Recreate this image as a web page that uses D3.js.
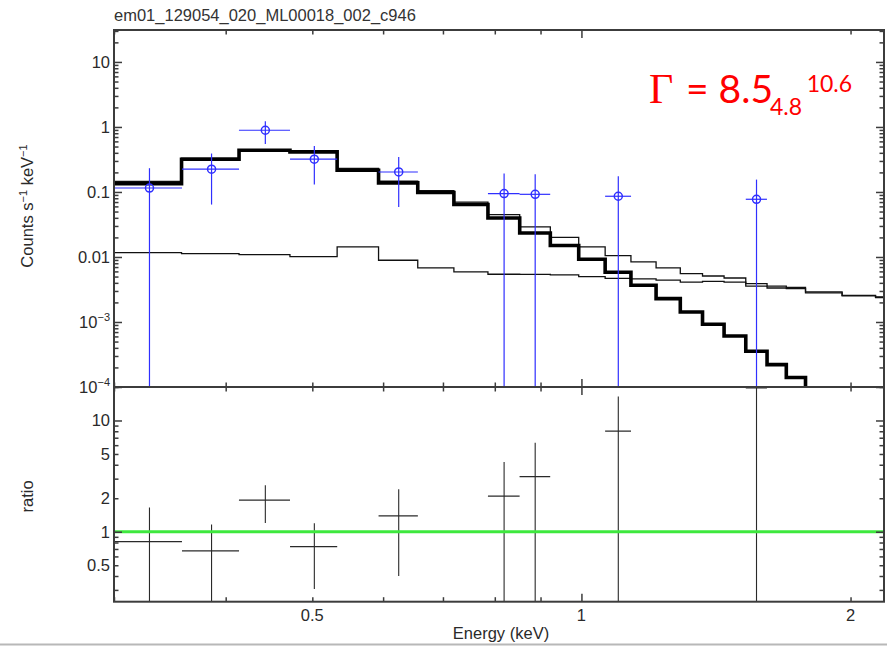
<!DOCTYPE html>
<html>
<head>
<meta charset="utf-8">
<script src="https://cdn.jsdelivr.net/npm/d3@7"></script>
<style>
  html, body { margin: 0; padding: 0; background: #fff; }
  svg { display: block; }
</style>
</head>
<body>
<svg id="chart" width="887" height="648"></svg>
<script>
// ---- Spectrum data ---------------------------------------------------------
const plotTitle = "em01_129054_020_ML00018_002_c946";

// Energy bin edges (keV) of the folded model
const binEdges = [0.300, 0.357, 0.414, 0.472, 0.533, 0.593, 0.656, 0.720, 0.786,
                  0.853, 0.923, 0.993, 1.063, 1.136, 1.212, 1.290, 1.366, 1.444,
                  1.527, 1.613, 1.695, 1.781, 1.957, 2.133, 2.180];

// Folded model components per bin (counts s^-1 keV^-1)
const totalModel = [0.146, 0.330, 0.449, 0.423, 0.230, 0.147, 0.105, 0.070, 0.0449,
                    0.029, 0.020, 0.01426, 0.01051, 0.00838, 0.00678, 0.00556, 0.0051,
                    0.00475, 0.0039, 0.00355, 0.00339, 0.0029, 0.00257, 0.00243];
const sourceModel = [0.1346, 0.319, 0.438, 0.413, 0.216, 0.138, 0.098, 0.064, 0.0398,
                     0.0234, 0.0150, 0.00922, 0.00582, 0.00367, 0.00229, 0.001426,
                     0.000922, 0.00061, 0.000355, 0.000221, 0.00014, 0.000068,
                     0.000031, 0.000018];
const backgroundModel = [0.0117, 0.01127, 0.0109, 0.01014, 0.01426, 0.0089, 0.00678,
                         0.00588, 0.00542, 0.0054, 0.0053, 0.0050, 0.0047, 0.0046,
                         0.0044, 0.0041, 0.0042, 0.0041, 0.00355, 0.00333, 0.00325,
                         0.0028, 0.00252, 0.00238];

// Grouped data points (keV, counts s^-1 keV^-1); a low bound of 0 runs off the axis
const dataEnergy    = [0.3287, 0.3857, 0.4430, 0.5026, 0.6246, 0.8194, 0.8877, 1.0996, 1.5698];
const dataHalfWidth = [0.0287, 0.0283, 0.0291, 0.0305, 0.0316, 0.0334, 0.0350, 0.0367, 0.0428];
const dataRate      = [0.115, 0.224, 0.89, 0.319, 0.203, 0.0945, 0.092, 0.0859, 0.0772];
const dataRateHigh  = [0.232, 0.39, 1.22, 0.51, 0.345, 0.192, 0.187, 0.174, 0.155];
const dataRateLow   = [0, 0.064, 0.548, 0.13, 0.0588, 0, 0, 0, 0];

// Data / model ratio for the same points
const ratioValue = [0.814, 0.672, 1.92, 0.734, 1.39, 2.09, 3.13, 8.02, 19.6];
const ratioHigh  = [1.65, 1.16, 2.62, 1.19, 2.41, 4.23, 6.3, 16.4, 40];
const ratioLow   = [0, 0, 1.2, 0.306, 0.40, 0, 0, 0, 0];

// Tick labels
const energyLabels = [0.5, 1, 2];
const rateLabels = [
  {v: 10, base: "10"}, {v: 1, base: "1"}, {v: 0.1, base: "0.1"}, {v: 0.01, base: "0.01"},
  {v: 1e-3, base: "10", exp: "\u22123"}, {v: 1e-4, base: "10", exp: "\u22124"}
];
const ratioLabels = [0.5, 1, 2, 5, 10];

// ---- Layout ----------------------------------------------------------------
const left = 114, right = 884;
const topY = 30, midY = 387, bottomY = 601.7;
const axisColor = "#3c3c3c", textColor = "#2a2a2a";
const font = "'Liberation Sans', Arial, Helvetica, sans-serif";

const svg = d3.select("#chart");

const x = d3.scaleLog().domain([0.3, 2.18]).range([left, right]);
const yRate = d3.scaleLog().domain([1e-4, 31]).range([midY, topY]);
const yRatio = d3.scaleLog().domain([0.235, 20]).range([bottomY, midY]);

const defs = svg.append("defs");
defs.append("clipPath").attr("id", "clipTop")
  .append("rect").attr("x", left).attr("y", topY).attr("width", right - left).attr("height", midY - topY);
defs.append("clipPath").attr("id", "clipRatio")
  .append("rect").attr("x", left).attr("y", midY).attr("width", right - left).attr("height", bottomY - midY);

// ---- Title -----------------------------------------------------------------
svg.append("text")
  .attr("x", left).attr("y", 21)
  .attr("font-family", font).attr("font-size", 16.5).attr("fill", "#333")
  .text(plotTitle);

// ---- Model step curves ------------------------------------------------------
function stepPoints(values) {
  const pts = values.map((v, i) => [binEdges[i], v]);
  pts.push([binEdges[binEdges.length - 1], values[values.length - 1]]);
  return pts;
}
const stepLine = d3.line()
  .x(d => x(d[0]))
  .y(d => yRate(d[1]))
  .curve(d3.curveStepAfter);

const topPlot = svg.append("g").attr("clip-path", "url(#clipTop)");

topPlot.append("path").datum(stepPoints(backgroundModel))
  .attr("d", stepLine).attr("fill", "none").attr("stroke", "#111").attr("stroke-width", 1.3);
topPlot.append("path").datum(stepPoints(totalModel))
  .attr("d", stepLine).attr("fill", "none").attr("stroke", "#111").attr("stroke-width", 1.3);
topPlot.append("path").datum(stepPoints(sourceModel))
  .attr("d", stepLine).attr("fill", "none").attr("stroke", "#000").attr("stroke-width", 3.6)
  .attr("stroke-linejoin", "miter");

// ---- Data points with error bars ---------------------------------------------
const blue = "#2f2fff";
const rateMin = yRate.domain()[0];
const points = dataEnergy.map((e, i) => ({
  e, hw: dataHalfWidth[i], v: dataRate[i], hi: dataRateHigh[i], lo: Math.max(dataRateLow[i], rateMin)
}));
const pg = topPlot.append("g");
pg.selectAll("line.xerr").data(points).join("line")
  .attr("x1", d => x(d.e - d.hw)).attr("x2", d => x(d.e + d.hw))
  .attr("y1", d => yRate(d.v)).attr("y2", d => yRate(d.v))
  .attr("stroke", blue).attr("stroke-width", 1.2);
pg.selectAll("line.yerr").data(points).join("line")
  .attr("x1", d => x(d.e)).attr("x2", d => x(d.e))
  .attr("y1", d => yRate(d.hi)).attr("y2", d => yRate(d.lo))
  .attr("stroke", blue).attr("stroke-width", 1.2);
pg.selectAll("circle").data(points).join("circle")
  .attr("cx", d => x(d.e)).attr("cy", d => yRate(d.v)).attr("r", 4)
  .attr("fill", "none").attr("stroke", blue).attr("stroke-width", 1.5);

// ---- Ratio panel -------------------------------------------------------------
const ratioMin = yRatio.domain()[0];
const ratios = dataEnergy.map((e, i) => ({
  e, hw: dataHalfWidth[i], v: ratioValue[i], hi: ratioHigh[i], lo: Math.max(ratioLow[i], ratioMin)
}));
const rp = svg.append("g").attr("clip-path", "url(#clipRatio)");
rp.selectAll("line.xerr").data(ratios).join("line")
  .attr("x1", d => x(d.e - d.hw)).attr("x2", d => x(d.e + d.hw))
  .attr("y1", d => yRatio(d.v)).attr("y2", d => yRatio(d.v))
  .attr("stroke", "#2a2a2a").attr("stroke-width", 1.2);
rp.selectAll("line.yerr").data(ratios).join("line")
  .attr("x1", d => x(d.e)).attr("x2", d => x(d.e))
  .attr("y1", d => yRatio(d.hi)).attr("y2", d => yRatio(d.lo))
  .attr("stroke", "#2a2a2a").attr("stroke-width", 1.1);
rp.append("line")
  .attr("x1", left).attr("x2", right)
  .attr("y1", yRatio(1)).attr("y2", yRatio(1))
  .attr("stroke", "#3ee83e").attr("stroke-width", 3);

// ---- Axes: inward ticks on all four sides --------------------------------------
function isDecade(v) {
  const l = Math.log10(v);
  return Math.abs(l - Math.round(l)) < 1e-9;
}
function tickAxis(axisFn, scale, pos, isX, majorLen, minorLen) {
  const all = scale.ticks();
  const major = all.filter(isDecade);
  const minor = all.filter(v => !isDecade(v));
  [[minor, minorLen], [major, majorLen]].forEach(([vals, len]) => {
    const g = svg.append("g")
      .attr("transform", isX ? `translate(0,${pos})` : `translate(${pos},0)`)
      .call(axisFn(scale).tickValues(vals).tickSize(-len).tickFormat(""));
    g.select(".domain").remove();
    g.selectAll(".tick line").attr("stroke", axisColor).attr("stroke-width", 1.5);
  });
}
// upper panel
tickAxis(d3.axisLeft, yRate, left, false, 8, 4.5);
tickAxis(d3.axisRight, yRate, right, false, 8, 4.5);
tickAxis(d3.axisTop, x, topY, true, 8, 4.5);
tickAxis(d3.axisBottom, x, midY, true, 8, 4.5);
// ratio panel
tickAxis(d3.axisLeft, yRatio, left, false, 8, 4.5);
tickAxis(d3.axisRight, yRatio, right, false, 8, 4.5);
tickAxis(d3.axisTop, x, midY, true, 8, 4.5);
tickAxis(d3.axisBottom, x, bottomY, true, 8, 4.5);

// frames
[[topY, midY], [midY, bottomY]].forEach(([a, b]) => {
  svg.append("rect")
    .attr("x", left).attr("y", a).attr("width", right - left).attr("height", b - a)
    .attr("fill", "none").attr("stroke", axisColor).attr("stroke-width", 2);
});

// ---- Tick labels ----------------------------------------------------------------
const labelSize = 16.5;
rateLabels.forEach(d => {
  const t = svg.append("text")
    .attr("x", left - 4).attr("y", yRate(d.v)).attr("dy", "0.36em")
    .attr("text-anchor", "end").attr("font-family", font).attr("font-size", labelSize)
    .attr("fill", textColor);
  t.append("tspan").text(d.base);
  if (d.exp) {
    t.append("tspan").attr("dy", -7).attr("font-size", 11).text(d.exp);
  }
});
ratioLabels.forEach(v => {
  svg.append("text")
    .attr("x", left - 4).attr("y", yRatio(v)).attr("dy", "0.36em")
    .attr("text-anchor", "end").attr("font-family", font).attr("font-size", labelSize)
    .attr("fill", textColor).text(v);
});
energyLabels.forEach(v => {
  svg.append("text")
    .attr("x", x(v)).attr("y", 620.5)
    .attr("text-anchor", "middle").attr("font-family", font).attr("font-size", labelSize)
    .attr("fill", textColor).text(v);
});

// ---- Axis titles ------------------------------------------------------------------
svg.append("text")
  .attr("x", (left + right) / 2 + 2).attr("y", 639)
  .attr("text-anchor", "middle").attr("font-family", font).attr("font-size", labelSize)
  .attr("fill", textColor).text("Energy (keV)");

svg.append("text")
  .attr("transform", `translate(33,${(yRatio(0.235) + yRatio(20)) / 2 + 2}) rotate(-90)`)
  .attr("text-anchor", "middle").attr("font-family", font).attr("font-size", labelSize)
  .attr("fill", textColor).text("ratio");

const yl = svg.append("text")
  .attr("transform", "translate(33,206) rotate(-90)")
  .attr("text-anchor", "middle").attr("font-family", font).attr("font-size", labelSize)
  .attr("fill", textColor);
yl.append("tspan").text("Counts s");
yl.append("tspan").attr("dy", -6).attr("font-size", 11).text("\u22121");
yl.append("tspan").attr("dy", 6).text(" keV");
yl.append("tspan").attr("dy", -6).attr("font-size", 11).text("\u22121");

// ---- Photon index annotation --------------------------------------------------------
const red = "#ff0000";
const gammaFont = "Lato, 'Open Sans', sans-serif";
svg.append("text").attr("x", 649).attr("y", 103.3)
  .attr("font-family", "'Liberation Serif', 'Times New Roman', serif").attr("font-size", 42)
  .attr("fill", red).text("\u0393");
svg.append("text").attr("x", 686).attr("y", 103.3)
  .attr("font-family", gammaFont).attr("font-size", 39)
  .attr("fill", red).text("= 8.5");
svg.append("text").attr("x", 770).attr("y", 115)
  .attr("font-family", gammaFont).attr("font-size", 23)
  .attr("fill", red).text("4.8");
svg.append("text").attr("x", 806.7).attr("y", 91.7)
  .attr("font-family", gammaFont).attr("font-size", 23)
  .attr("fill", red).text("10.6");

// slide edge rule along the bottom
svg.append("line")
  .attr("x1", 0).attr("x2", 887).attr("y1", 644.5).attr("y2", 644.5)
  .attr("stroke", "#b8b8b8").attr("stroke-width", 2);
</script>
</body>
</html>
